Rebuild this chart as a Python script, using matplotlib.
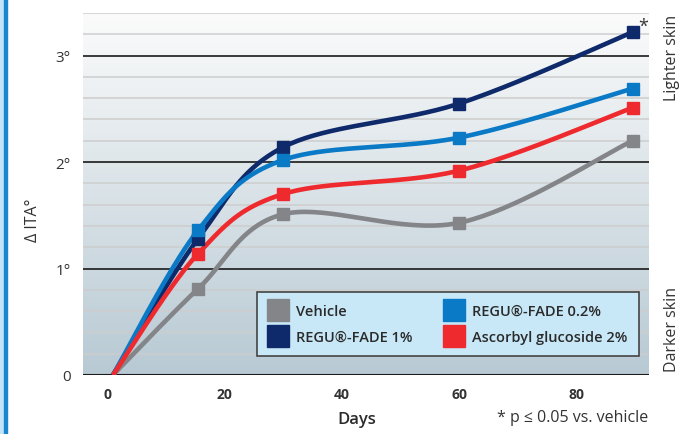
import numpy as np
import matplotlib
matplotlib.use("Agg")
import matplotlib.pyplot as plt
from matplotlib.lines import Line2D
from matplotlib.patches import Rectangle

plt.rcParams['font.family'] = ['Open Sans', 'DejaVu Sans']

# data
days = [1, 15.5, 30, 60, 89.5]
vehicle = [0, 0.81, 1.51, 1.43, 2.20]
regu_1 = [0, 1.28, 2.14, 2.55, 3.22]
regu_02 = [0, 1.36, 2.02, 2.23, 2.69]
ascorbyl = [0, 1.14, 1.70, 1.92, 2.51]

series = [
    ("Vehicle", vehicle, "#848589"),
    ("REGU®-FADE 1%", regu_1, "#0f2a6b"),
    ("REGU®-FADE 0.2%", regu_02, "#0a79c6"),
    ("Ascorbyl glucoside 2%", ascorbyl, "#ee2a2e"),
]

yticks = [0, 1, 2, 3]
ylabels = ["0", "1°", "2°", "3°"]
xticks = [0, 20, 40, 60, 80]


def smooth(xs, ys, sx=5.87, sy=106.4, n=40):
    # excel-like bezier smoothing, done in pixel-ish space
    p = np.column_stack([np.array(xs) * sx, np.array(ys) * sy])
    out = []
    for i in range(len(p) - 1):
        p0 = p[max(i - 1, 0)]
        p1 = p[i]
        p2 = p[i + 1]
        p3 = p[min(i + 2, len(p) - 1)]
        c1 = p1 + (p2 - p0) / 6
        c2 = p2 - (p3 - p1) / 6
        t = np.linspace(0, 1, n)[:, None]
        seg = (1 - t) ** 3 * p1 + 3 * (1 - t) ** 2 * t * c1 + 3 * (1 - t) * t ** 2 * c2 + t ** 3 * p2
        out.append(seg)
    out = np.vstack(out)
    return out[:, 0] / sx, out[:, 1] / sy


fig = plt.figure(figsize=(6.82, 4.35), dpi=100)
ax = fig.add_axes([83 / 682, 1 - 376 / 435, 566 / 682, 362 / 435])

x0, x1 = -4.1, 92.3
y0, y1 = 0, 3.4
ax.set_xlim(x0, x1)
ax.set_ylim(y0, y1)

# background gradient
grad = np.linspace(0, 1, 256)[:, None]
top = np.array([0.985, 0.985, 0.985])
bot = np.array([0.72, 0.79, 0.83])
img = top + (bot - top) * grad[..., None]
ax.imshow(img, extent=[x0, x1, y0, y1], aspect='auto', origin='upper', zorder=0)

for v in np.arange(0.2, 3.41, 0.2):
    if abs(v - round(v)) < 1e-6:
        ax.axhline(v, color="#1a1a1a", lw=1.2, zorder=1)
    else:
        ax.axhline(v, color="#cdcdcd", lw=1.1, zorder=1)
ax.axhline(0, color="#1a1a1a", lw=1.5, zorder=1)

for name, vals, col in series:
    sx, sy = smooth(days, vals)
    ax.plot(sx, sy, color=col, lw=3.3, zorder=3, solid_capstyle='butt')
    ax.plot(days[1:], vals[1:], 's', color=col, ms=9, zorder=4)

for s in ax.spines.values():
    s.set_visible(False)

ax.set_yticks(yticks)
ax.set_yticklabels(ylabels, fontsize=11, color="#333333")
ax.set_xticks(xticks)
ax.set_xticklabels([str(t) for t in xticks], fontsize=10, fontweight='bold', color="#333333")
ax.tick_params(length=0)
ax.tick_params(axis='y', pad=9)
ax.tick_params(axis='x', pad=9)

ax.text(90.5, 3.28, "*", fontsize=13, color="#333333", ha='left', va='center')

handles = [Line2D([], [], marker='s', ls='none', color=s[2], ms=16) for s in series]
labels = [s[0] for s in series]
leg = ax.legend(handles, labels, ncol=2, loc='lower right', bbox_to_anchor=(0.983, 0.053),
                frameon=True, fancybox=False, fontsize=10.5, handlelength=1.3, handletextpad=0.6,
                columnspacing=2.2, borderpad=0.8, labelspacing=0.85, borderaxespad=0)
leg.get_frame().set_facecolor("#c8e8f8")
leg.get_frame().set_edgecolor("#444444")
leg.get_frame().set_linewidth(1.2)
leg.get_frame().set_alpha(1)
for t in leg.get_texts():
    t.set_fontweight('semibold')
    t.set_color("#2a2a2a")
leg.set_zorder(5)

fig.text(33 / 682, 1 - 220 / 435, "Δ ITA°", rotation=90, fontsize=11.5, color="#333333", ha='center', va='center')
fig.text(357 / 682, 1 - 420 / 435, "Days", fontsize=12, fontweight='semibold', color="#2a2a2a", ha='center', va='center')
fig.text(648 / 682, 1 - 418 / 435, "* p ≤ 0.05 vs. vehicle", fontsize=11.5, color="#333333", ha='right', va='center')
fig.text(672 / 682, 1 - 58 / 435, "Lighter skin", rotation=90, fontsize=11.5, color="#333333", ha='center', va='center')
fig.text(672 / 682, 1 - 330 / 435, "Darker skin", rotation=90, fontsize=11.5, color="#333333", ha='center', va='center')

# left border stripe
fig.patches.append(Rectangle((0, 0), 4 / 682, 1, transform=fig.transFigure, color="#c3e4f7", zorder=0))
fig.patches.append(Rectangle((4 / 682, 0), 2.5 / 682, 1, transform=fig.transFigure, color="#1a86cf", zorder=0))

fig.savefig("out.png", dpi=100)
